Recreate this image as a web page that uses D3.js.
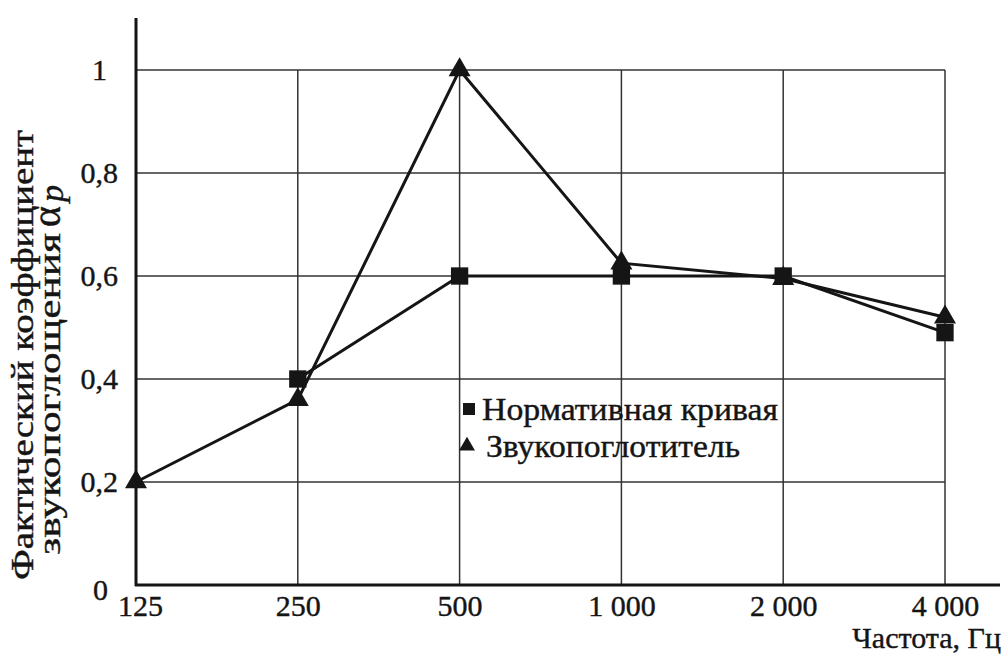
<!DOCTYPE html>
<html><head><meta charset="utf-8">
<script src="https://cdn.jsdelivr.net/npm/d3@7"></script>
<style>body{margin:0;background:#fff;}svg{display:block;}</style>
</head><body>
<svg id="c" width="1003" height="656"></svg>
<script>
const categories = ["125","250","500","1 000","2 000","4 000"];
const yTicks = [0,0.2,0.4,0.6,0.8,1];
const yTickLabels = ["0","0,2","0,4","0,6","0,8","1"];
const normCats = ["250","500","1 000","2 000","4 000"];
const normValues = [0.40,0.60,0.60,0.60,0.49];
const absCats = ["125","250","500","1 000","2 000","4 000"];
const absValues = [0.20,0.36,1.00,0.625,0.595,0.52];
const seriesNames = ["Нормативная кривая","Звукопоглотитель"];

const svg = d3.select("#c");
const font = "'Liberation Serif', 'DejaVu Serif', serif";
const ink = "#151515";
const x = d3.scalePoint().domain(categories).range([136,945]);
const y = d3.scaleLinear().domain([0,1]).range([585,70]);

// grid
svg.append("g").selectAll("line").data(yTicks.slice(1)).join("line")
  .attr("x1",136).attr("x2",945).attr("y1",d=>y(d)).attr("y2",d=>y(d))
  .attr("stroke","#333").attr("stroke-width",1.5);
svg.append("g").selectAll("line").data(categories.slice(1)).join("line")
  .attr("x1",d=>x(d)).attr("x2",d=>x(d)).attr("y1",y(1)).attr("y2",y(0))
  .attr("stroke","#333").attr("stroke-width",1.5);

// axes lines
svg.append("line").attr("x1",136).attr("x2",136).attr("y1",18).attr("y2",586).attr("stroke",ink).attr("stroke-width",3);
svg.append("line").attr("x1",135).attr("x2",1000).attr("y1",585).attr("y2",585).attr("stroke",ink).attr("stroke-width",3);

const txt = sel => sel.style("font-family",font).attr("fill",ink).attr("stroke",ink).attr("stroke-width",0.4);

// tick labels via axes
const yAxis = d3.axisLeft(y).tickValues(yTicks).tickFormat((d,i)=>yTickLabels[i]).tickSize(0).tickPadding(0);
const gy = svg.append("g").attr("transform","translate(118,0)").call(yAxis);
gy.select(".domain").remove();
gy.selectAll("text").call(txt).attr("font-size",30).attr("dy","0.32em");
gy.selectAll(".tick").filter(d=>d===0).select("text").attr("transform","translate(-10,5)");
gy.selectAll(".tick").filter(d=>d===1).select("text").attr("transform","translate(-11,0)");

const xAxis = d3.axisBottom(x).tickSize(0).tickPadding(0);
const gx = svg.append("g").attr("transform","translate(0,593)").call(xAxis);
gx.select(".domain").remove();
gx.selectAll("text").call(txt).attr("font-size",30).attr("dy","0.75em");
gx.selectAll(".tick").filter(d=>d==="125").select("text").attr("transform","translate(4,0)");

// axis titles
svg.append("text").attr("x",1001).attr("y",648).attr("text-anchor","end")
  .call(txt).attr("font-size",30).text("Частота, Гц");
svg.append("text").attr("transform","translate(33,580) rotate(-90)")
  .call(txt).attr("font-size",32)
  .attr("textLength",450).attr("lengthAdjust","spacingAndGlyphs")
  .text("Фактический  коэффициент");
const t2 = svg.append("g").attr("transform","translate(60,555) rotate(-90)");
t2.append("text").call(txt).attr("font-size",32)
  .attr("textLength",322).attr("lengthAdjust","spacingAndGlyphs").text("звукопоглощения");
t2.append("text").attr("x",328).call(txt).attr("font-size",40).text("α");
t2.append("text").attr("x",353).attr("y",3).call(txt).attr("font-style","italic").attr("font-size",34).text("p");

// lines
const line = d3.line().x(d=>x(d.c)).y(d=>y(d.v));
const normData = normCats.map((c,i)=>({c,v:normValues[i]}));
const absData = absCats.map((c,i)=>({c,v:absValues[i]}));
svg.append("path").datum(normData).attr("d",line).attr("fill","none").attr("stroke",ink).attr("stroke-width",3);
svg.append("path").datum(absData).attr("d",line).attr("fill","none").attr("stroke",ink).attr("stroke-width",3);

// markers
const sq = d3.symbol().type(d3.symbolSquare).size(300);
const tri = d3.symbol().type(d3.symbolTriangle).size(210);
svg.append("g").selectAll("path").data(normData).join("path")
  .attr("transform",d=>`translate(${x(d.c)},${y(d.v)})`).attr("d",sq).attr("fill",ink);
svg.append("g").selectAll("path").data(absData).join("path")
  .attr("transform",d=>`translate(${x(d.c)},${y(d.v)})`).attr("d",tri).attr("fill",ink);

// legend
const lg = svg.append("g");
lg.append("path").attr("transform","translate(469,409)").attr("d",d3.symbol().type(d3.symbolSquare).size(144)).attr("fill",ink);
lg.append("path").attr("transform","translate(467,446)").attr("d",d3.symbol().type(d3.symbolTriangle).size(110)).attr("fill",ink);
lg.append("text").attr("x",482).attr("y",420).call(txt).attr("font-size",31)
  .attr("textLength",296).attr("lengthAdjust","spacingAndGlyphs").text(seriesNames[0]);
lg.append("text").attr("x",486).attr("y",457).call(txt).attr("font-size",31)
  .attr("textLength",254).attr("lengthAdjust","spacingAndGlyphs").text(seriesNames[1]);
</script>
</body></html>
